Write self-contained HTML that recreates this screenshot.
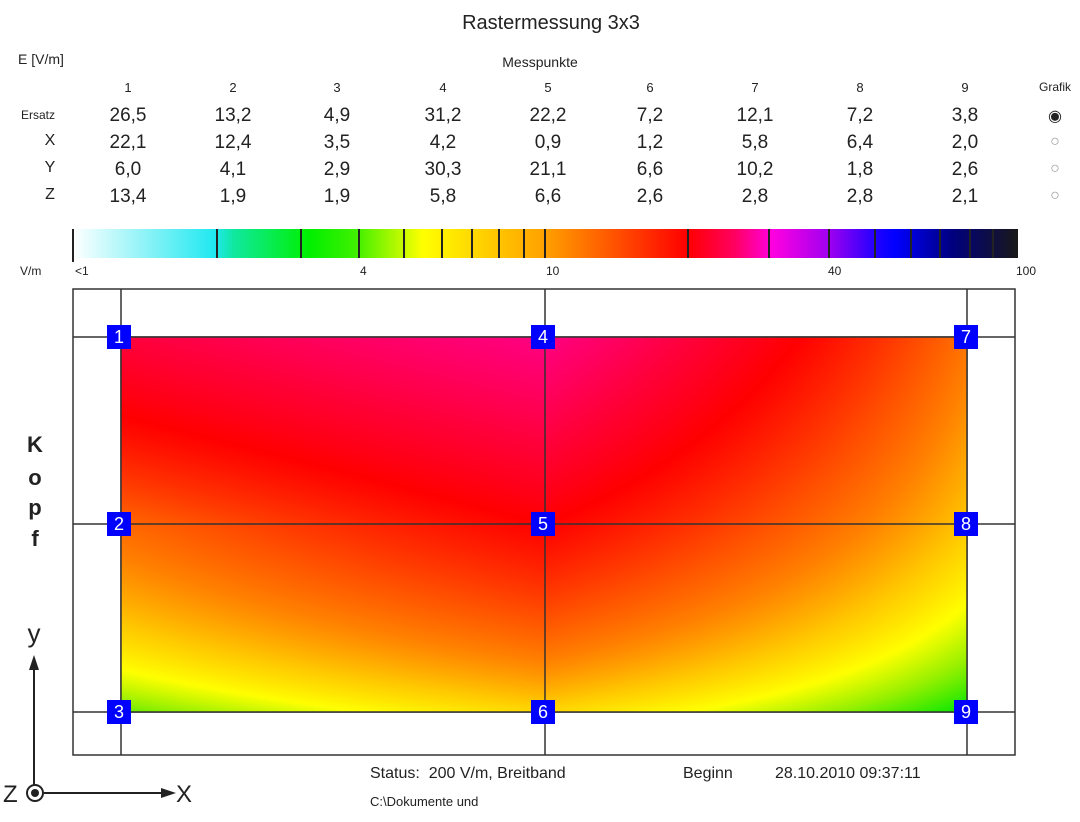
<!DOCTYPE html>
<html><head><meta charset="utf-8">
<style>
html,body{margin:0;padding:0;background:#fff;}
#w{position:relative;width:1080px;height:822px;overflow:hidden;font-family:"Liberation Sans",sans-serif;color:#222;}
.t{position:absolute;white-space:nowrap;}
.c{transform:translateX(-50%);}
.num{font-size:19px;}
.hd{font-size:13px;}
.mk{position:absolute;width:24px;height:24px;background:#0000ff;color:#fff;font-size:18px;text-align:center;line-height:24px;}
canvas{position:absolute;left:121px;top:337px;}
</style></head><body><div id="w">
<div class="t c" style="left:551px;top:12px;font-size:20px;">Rastermessung 3x3</div>
<div class="t" style="left:18px;top:51px;font-size:14px;">E [V/m]</div>
<div class="t c" style="left:540px;top:54px;font-size:14px;">Messpunkte</div>
<div id="tbl"></div>
<svg style="position:absolute;left:0;top:0" width="1080" height="822">
<defs><linearGradient id="cb" x1="73" x2="1018" gradientUnits="userSpaceOnUse">
<stop offset="0" stop-color="#ffffff"/><stop offset="0.15" stop-color="#20e8f0"/>
<stop offset="0.17" stop-color="#10e8a0"/><stop offset="0.25" stop-color="#00f000"/>
<stop offset="0.3" stop-color="#40f000"/><stop offset="0.37" stop-color="#ffff00"/>
<stop offset="0.5" stop-color="#ffa000"/><stop offset="0.65" stop-color="#ff0000"/>
<stop offset="0.7" stop-color="#ff0060"/><stop offset="0.74" stop-color="#ff00e0"/>
<stop offset="0.8" stop-color="#a000f0"/><stop offset="0.85" stop-color="#2000ff"/>
<stop offset="0.87" stop-color="#0000ff"/><stop offset="0.93" stop-color="#000080"/>
<stop offset="1" stop-color="#181818"/></linearGradient></defs>
<rect x="73" y="229" width="945" height="29" fill="url(#cb)"/>
<g stroke="#222" stroke-width="2">
<line x1="73" y1="229" x2="73" y2="262"/><line x1="217" y1="229" x2="217" y2="258"/>
<line x1="301" y1="229" x2="301" y2="258"/><line x1="359" y1="229" x2="359" y2="258"/>
<line x1="404" y1="229" x2="404" y2="258"/><line x1="442" y1="229" x2="442" y2="258"/>
<line x1="472" y1="229" x2="472" y2="258"/><line x1="499" y1="229" x2="499" y2="258"/>
<line x1="524" y1="229" x2="524" y2="258"/><line x1="545" y1="229" x2="545" y2="258"/>
<line x1="688" y1="229" x2="688" y2="258"/><line x1="769" y1="229" x2="769" y2="258"/>
<line x1="829" y1="229" x2="829" y2="258"/><line x1="875" y1="229" x2="875" y2="258"/>
<line x1="911" y1="229" x2="911" y2="258"/><line x1="940" y1="229" x2="940" y2="258"/>
<line x1="970" y1="229" x2="970" y2="258"/><line x1="993" y1="229" x2="993" y2="258"/>
</g>
<g font-family="Liberation Sans" font-size="12" fill="#222">
<text x="20" y="275">V/m</text><text x="75" y="275">&lt;1</text>
<text x="360" y="275">4</text><text x="546" y="275">10</text>
<text x="828" y="275">40</text><text x="1016" y="275">100</text>
</g>
<g stroke="#333" stroke-width="1.5" fill="none">
<rect x="73" y="289" width="942" height="466"/>
<line x1="121" y1="289" x2="121" y2="755"/><line x1="545" y1="289" x2="545" y2="755"/>
<line x1="967" y1="289" x2="967" y2="755"/>
<line x1="73" y1="337" x2="1015" y2="337"/><line x1="73" y1="524" x2="1015" y2="524"/>
<line x1="73" y1="712" x2="1015" y2="712"/>
</g>
<g fill="#222" font-family="Liberation Sans" font-weight="bold" font-size="22" text-anchor="middle">
<text x="35" y="452">K</text><text x="35" y="485">o</text><text x="35" y="515">p</text><text x="35" y="546">f</text>
</g>
<text x="34" y="642" font-family="Liberation Sans" font-size="26" text-anchor="middle" fill="#222">y</text>
<line x1="34" y1="785" x2="34" y2="668" stroke="#222" stroke-width="2"/>
<polygon points="34,655 29,670 39,670" fill="#222"/>
<line x1="44" y1="793" x2="165" y2="793" stroke="#222" stroke-width="2"/>
<polygon points="176,793 161,788 161,798" fill="#222"/>
<circle cx="35" cy="793" r="8" fill="none" stroke="#222" stroke-width="2"/>
<circle cx="35" cy="793" r="4" fill="#222"/>
<text x="3" y="802" font-family="Liberation Sans" font-size="24" fill="#222">Z</text>
<text x="176" y="802" font-family="Liberation Sans" font-size="24" fill="#222">X</text>
</svg>
<canvas id="cv" width="846" height="375"></canvas>
<svg style="position:absolute;left:0;top:0" width="1080" height="822">
<g stroke="#333" stroke-width="1.5">
<line x1="121" y1="337" x2="121" y2="712"/><line x1="545" y1="337" x2="545" y2="712"/>
<line x1="967" y1="337" x2="967" y2="712"/>
<line x1="121" y1="337" x2="967" y2="337"/><line x1="121" y1="524" x2="967" y2="524"/>
<line x1="121" y1="712" x2="967" y2="712"/>
</g></svg>
<div class="mk" style="left:107px;top:325px">1</div>
<div class="mk" style="left:531px;top:325px">4</div>
<div class="mk" style="left:954px;top:325px">7</div>
<div class="mk" style="left:107px;top:512px">2</div>
<div class="mk" style="left:531px;top:512px">5</div>
<div class="mk" style="left:954px;top:512px">8</div>
<div class="mk" style="left:107px;top:700px">3</div>
<div class="mk" style="left:531px;top:700px">6</div>
<div class="mk" style="left:954px;top:700px">9</div>
<div class="t" style="left:370px;top:765px;font-size:16px;">Status:&nbsp; 200 V/m, Breitband</div>
<div class="t" style="left:683px;top:765px;font-size:16px;">Beginn</div>
<div class="t" style="left:775px;top:765px;font-size:16px;">28.10.2010 09:37:11</div>
<div class="t" style="left:370px;top:794px;font-size:13px;">C:\Dokumente und</div>
</div>
<script>
var cols=[128,233,337,443,548,650,755,860,965];
var rows=[["Ersatz","26,5","13,2","4,9","31,2","22,2","7,2","12,1","7,2","3,8"],
["X","22,1","12,4","3,5","4,2","0,9","1,2","5,8","6,4","2,0"],
["Y","6,0","4,1","2,9","30,3","21,1","6,6","10,2","1,8","2,6"],
["Z","13,4","1,9","1,9","5,8","6,6","2,6","2,8","2,8","2,1"]];
var ys=[105,132,159,186];
var h='';
for(var i=0;i<9;i++)h+='<div class="t c hd" style="left:'+cols[i]+'px;top:80px">'+(i+1)+'</div>';
h+='<div class="t c" style="left:1055px;top:80px;font-size:12px">Grafik</div>';
for(var r=0;r<4;r++){
 h+='<div class="t c" style="left:'+(r==0?38:50)+'px;top:'+(ys[r]+(r==0?3:0))+'px;font-size:'+(r==0?12:16)+'px">'+rows[r][0]+'</div>';
 for(var i=0;i<9;i++)h+='<div class="t c num" style="left:'+cols[i]+'px;top:'+ys[r]+'px">'+rows[r][i+1]+'</div>';
 h+='<div class="t c" style="left:1055px;top:'+(ys[r]+1)+'px;font-size:16px;color:#999">'+(r==0?'<span style="color:#222">&#9673;</span>':'&#9675;')+'</div>';
}
document.getElementById('tbl').innerHTML=h;
var S=[[0.8,0.9,0.48],[0.5,0.7,0.33],[0.08,0.3,0.0]];
var K=1.1;
for(var a=0;a<3;a++)for(var b=0;b<3;b++)S[a][b]=Math.pow(10,K*S[a][b]);
var cm=[[0,[0,230,0]],[0.12,[150,240,0]],[0.22,[255,255,0]],[0.33,[255,200,0]],[0.45,[255,130,0]],[0.55,[255,80,0]],[0.7,[255,0,0]],[0.8,[255,0,60]],[0.9,[255,0,130]],[1,[255,0,170]]];
function col(s){s=Math.max(0,Math.min(1,s));for(var i=1;i<cm.length;i++){if(s<=cm[i][0]){var a=cm[i-1],b=cm[i],f=(s-a[0])/(b[0]-a[0]);return [a[1][0]+(b[1][0]-a[1][0])*f,a[1][1]+(b[1][1]-a[1][1])*f,a[1][2]+(b[1][2]-a[1][2])*f];}}return cm[cm.length-1][1];}
var cv=document.getElementById('cv'),ctx=cv.getContext('2d'),W=846,H=375,im=ctx.createImageData(W,H);
for(var y=0;y<H;y++){var gy=y/(H-1)*2,j=Math.min(1,Math.floor(gy)),fy=gy-j;
for(var x=0;x<W;x++){var gx=x/(W-1)*2,i=Math.min(1,Math.floor(gx)),fx=gx-i;
var u=S[j][i]*(1-fx)*(1-fy)+S[j][i+1]*fx*(1-fy)+S[j+1][i]*(1-fx)*fy+S[j+1][i+1]*fx*fy;
var s=Math.log(u)/Math.LN10/K;
var c=col(s),k=(y*W+x)*4;im.data[k]=c[0];im.data[k+1]=c[1];im.data[k+2]=c[2];im.data[k+3]=255;}}
ctx.putImageData(im,0,0);
</script>
</body></html>
